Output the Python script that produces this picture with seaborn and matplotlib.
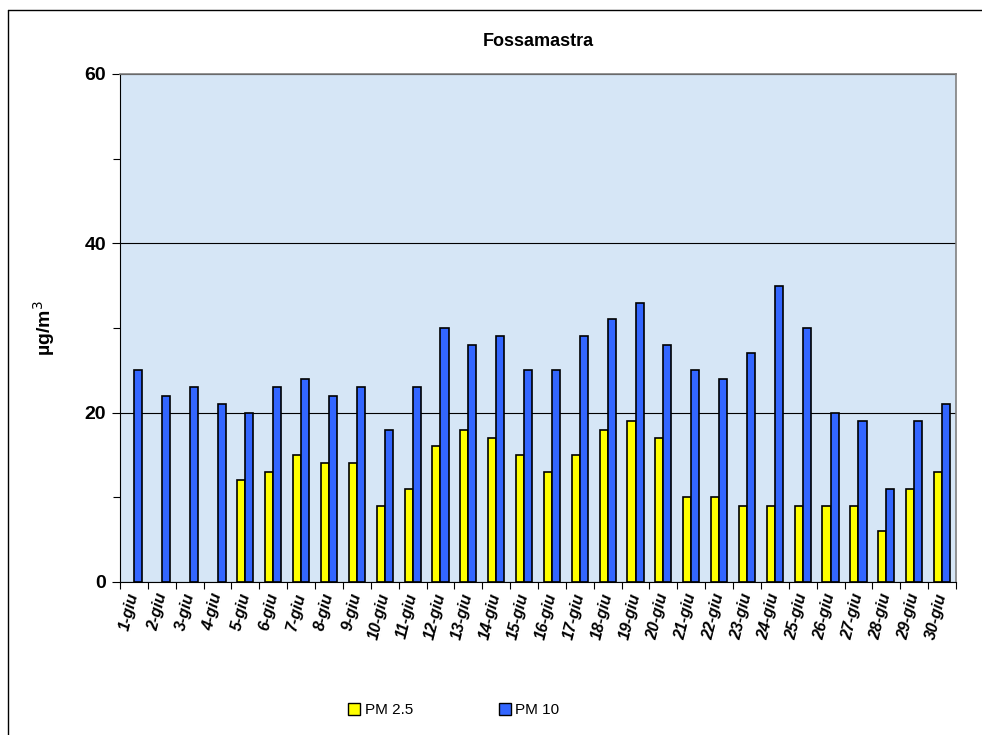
import numpy as np
import pandas as pd
import seaborn as sns
import matplotlib.pyplot as plt
from matplotlib.lines import Line2D
from matplotlib.patches import Patch
from matplotlib.ticker import MultipleLocator

days = [f'{i}-giu' for i in range(1, 31)]
pm25 = [np.nan, np.nan, np.nan, np.nan, 12, 13, 15, 14, 14, 9,
        11, 16, 18, 17, 15, 13, 15, 18, 19, 17,
        10, 10, 9, 9, 9, 9, 9, 6, 11, 13]
pm10 = [25, 22, 23, 21, 20, 23, 24, 22, 23, 18,
        23, 30, 28, 29, 25, 25, 29, 31, 33, 28,
        25, 24, 27, 35, 30, 20, 19, 11, 19, 21]
series = ['PM 2.5', 'PM 10']
colors = ['#ffff00', '#3366ff']

df = pd.DataFrame({'giorno': days * 2,
                   'serie': [series[0]] * 30 + [series[1]] * 30,
                   'valore': pm25 + pm10})

sns.set_style('white')
plt.rcParams['font.family'] = ['Liberation Sans', 'DejaVu Sans']
plt.rcParams.update({'text.color': 'black', 'axes.labelcolor': 'black',
                     'xtick.color': 'black', 'ytick.color': 'black'})

fig = plt.figure(figsize=(9.82, 7.35), dpi=100)
ax = fig.add_axes([0.1222, 0.2082, 0.8513, 0.6912])
ax.set_facecolor('#d6e6f6')

sns.barplot(data=df, x='giorno', y='valore', hue='serie', order=days,
            hue_order=series, palette=colors, width=0.58, gap=0,
            edgecolor='black', linewidth=1.2, saturation=1, ax=ax, legend=False)

ax.set_ylim(0, 60)
ax.set_xlim(-0.5, 29.5)
ax.yaxis.set_major_locator(MultipleLocator(20))
ax.yaxis.set_minor_locator(MultipleLocator(10))
ax.grid(axis='y', which='major', color='black', linewidth=0.8)
ax.set_axisbelow(True)

ax.set_xticks(range(30))
ax.set_xticklabels(days, rotation=76, ha='right', va='center',
                   rotation_mode='anchor', fontsize=11.5, fontweight='bold',
                   fontstyle='italic')
ax.set_xticks(np.arange(-0.5, 30, 1), minor=True)
ax.tick_params(axis='x', which='major', length=0, pad=8)
ax.tick_params(axis='x', which='minor', length=5, width=0.8, color='black',
               direction='out', bottom=True)
ax.tick_params(axis='y', which='major', length=6, width=0.8, color='black',
               direction='out', left=True, labelsize=14, pad=4)
ax.tick_params(axis='y', which='minor', length=5, width=0.8, color='black',
               direction='out', left=True)
for lab in ax.get_yticklabels():
    lab.set_fontweight('bold')

ax.set_xlabel('')
ax.set_ylabel('µg/m$^3$', fontsize=14, fontweight='bold', labelpad=20)
ax.set_title('Fossamastra', fontsize=13, fontweight='bold', pad=20)

for side in ['left', 'bottom']:
    ax.spines[side].set_color('black')
    ax.spines[side].set_linewidth(0.8)
for side in ['top', 'right']:
    ax.spines[side].set_color('#808080')
    ax.spines[side].set_linewidth(1.2)

handles = [Patch(facecolor=c, edgecolor='black', linewidth=1) for c in colors]
fig.legend(handles, series, loc='center', bbox_to_anchor=(0.462, 0.034),
           ncol=2, frameon=False, fontsize=11, handlelength=0.8,
           handleheight=0.8, handletextpad=0.3, columnspacing=5.6)

# outer chart frame
fig.add_artist(Line2D([8 / 982, 1.0], [1 - 10 / 735, 1 - 10 / 735],
                      transform=fig.transFigure, color='black', linewidth=1))
fig.add_artist(Line2D([8 / 982, 8 / 982], [0.0, 1 - 10 / 735],
                      transform=fig.transFigure, color='black', linewidth=1))

fig.savefig('out.png', dpi=100)
